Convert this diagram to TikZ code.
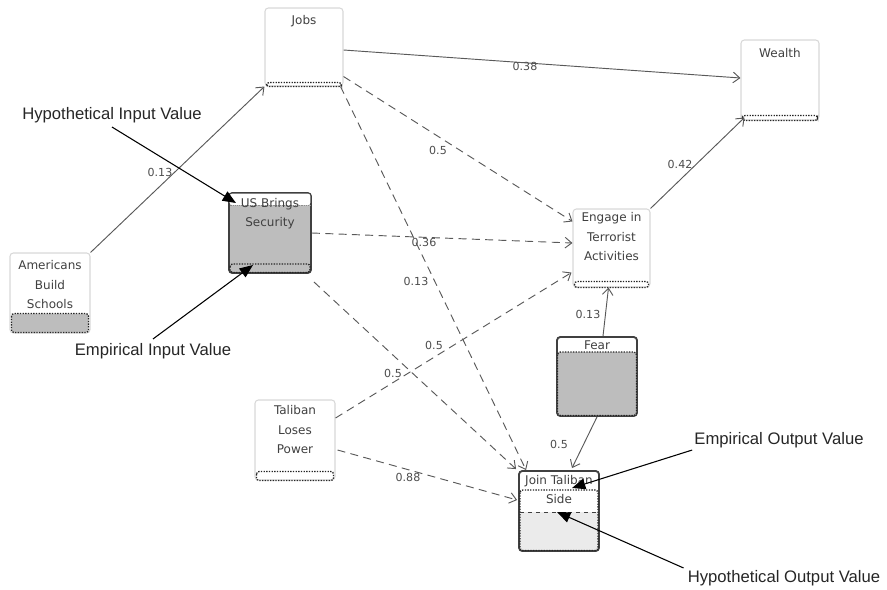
\documentclass[tikz,border=0pt]{standalone}
\usepackage{fontspec}
\setmainfont{DejaVu Sans}
\newfontfamily\annfont{Liberation Sans}
\usetikzlibrary{calc,arrows.meta}
\definecolor{emp}{HTML}{BDBDBD}
\definecolor{hyp}{HTML}{EBEBEB}
\definecolor{boxline}{HTML}{D8D8D8}
\tikzset{
  box/.style={draw=boxline, rounded corners=2.5pt, line width=0.8pt, inner sep=0pt, fill=white},
  hot/.style={draw=black!75, line width=1.4pt},
  ntext/.style={font=\fontsize{9}{14.5}\selectfont, text=black!75, align=center, anchor=north, inner sep=0pt},
  lbl/.style={font=\fontsize{8.3}{9}\selectfont, text=black!70, inner sep=1pt},
  edge/.style={draw=black!65, line width=0.7pt, -{Straight Barb[length=5pt,width=8pt]}},
  dedge/.style={edge, dash pattern=on 6pt off 4pt},
  ann/.style={draw=black, line width=0.8pt, -{Triangle[length=10pt,width=8pt]}},
  anntext/.style={font=\annfont\fontsize{12.5}{14}\selectfont, text=black!85, inner sep=0pt},
  band/.style={draw=black!85, densely dotted, line width=1pt, rounded corners=2pt}
}
\begin{document}
\begin{tikzpicture}[x=0.75pt,y=-0.75pt]
\useasboundingbox (0,0) rectangle (887,589);

% boxes
\node[box, minimum width=58.5pt, minimum height=58.5pt] (jobs) at (304,47) {};
\node[box, minimum width=58.5pt, minimum height=60pt] (wealth) at (780,80) {};
\node[box, hot, fill=emp, minimum width=61.5pt, minimum height=60pt] (us) at (270,233) {};
\node[box, minimum width=60pt, minimum height=60pt] (ams) at (50,293) {};
\node[box, minimum width=57.75pt, minimum height=58.5pt] (eng) at (611.5,248) {};
\node[box, hot, minimum width=60pt, minimum height=59.25pt] (fear) at (597,376.5) {};
\node[box, minimum width=60pt, minimum height=60pt] (tal) at (295,440) {};
\node[box, hot, minimum width=60pt, minimum height=60pt] (join) at (559,511) {};

% internal bands
\draw[band] ($(jobs.south west)+(2,-4)$) rectangle ($(jobs.south east)+(-2,0)$);
\draw[band] ($(wealth.south west)+(2,-5)$) rectangle ($(wealth.south east)+(-2,0)$);
\draw[band] ($(eng.south west)+(2,-6)$) rectangle ($(eng.south east)+(-2,0)$);
\draw[band] ($(tal.south west)+(2,-9)$) rectangle ($(tal.south east)+(-2,0)$);
\draw[band, fill=emp] ($(ams.south west)+(2,-20)$) rectangle ($(ams.south east)+(-2,-1)$);
% US brings security
\fill[white, rounded corners=2pt] ($(us.north west)+(1.5,1.5)$) rectangle ($(us.north east)+(-1.5,13)$);
\draw[black!45, densely dotted] ($(us.north west)+(1.5,13)$) -- ($(us.north east)+(-1.5,13)$);
\draw[band] ($(us.south west)+(2,-10)$) rectangle ($(us.south east)+(-2,-1.5)$);
% Fear
\draw[band, fill=emp] ($(fear.north west)+(1.5,16)$) rectangle ($(fear.south east)+(-1.5,-1.5)$);
% Join Taliban
\fill[hyp] ($(join.north west)+(2,42)$) rectangle ($(join.south east)+(-2,-2)$);
\draw[band] ($(join.north west)+(2,20)$) rectangle ($(join.south east)+(-2,-1.5)$);
\draw[black!75, dashed] ($(join.north west)+(2,42)$) -- ($(join.north east)+(-2,42)$);

% node texts
\node[ntext] (jobs-t) at ($(jobs.north)+(0,8)$) {Jobs};
\node[ntext] (wealth-t) at ($(wealth.north)+(0,9)$) {Wealth};
\node[ntext] (us-t) at ($(us.north)+(0,6)$) {US Brings\\Security};
\node[ntext] (ams-t) at ($(ams.north)+(0,8)$) {Americans\\Build\\Schools};
\node[ntext] (eng-t) at ($(eng.north)+(0,4)$) {Engage in\\Terrorist\\Activities};
\node[ntext] (fear-t) at ($(fear.north)+(0,4)$) {Fear};
\node[ntext] (tal-t) at ($(tal.north)+(0,6)$) {Taliban\\Loses\\Power};
\node[ntext] (join-t) at ($(join.north)+(0,5)$) {Join Taliban\\Side};

% connectors
\draw[edge] (ams.north east) -- (jobs.south west);
\draw[edge] ($(jobs.east)+(0,3)$) -- ($(wealth.west)+(0,-2)$);
\draw[dedge] ($(jobs.south east)+(0,-10)$) -- ($(eng.north west)+(0,13)$);
\draw[dedge] ($(jobs.south east)+(-3,0)$) -- ($(join.north west)+(8,0)$);
\draw[dedge] (us.east) -- ($(eng.west)+(0,-5)$);
\draw[dedge] ($(us.south east)+(2,8)$) -- ($(join.north west)+(-2,-1)$);
\draw[dedge] ($(tal.east)+(0,-22)$) -- ($(eng.south west)+(-1,-15)$);
\draw[dedge] ($(tal.east)+(2,10)$) -- ($(join.west)+(-1,-11)$);
\draw[edge] ($(fear.north)+(6,0)$) -- ($(eng.south)+(-3,0)$);
\draw[edge] (fear.south) -- ($(join.north)+(13,-2)$);
\draw[edge] (eng.north east) -- ($(wealth.south west)+(4,-3)$);

% edge labels
\node[lbl] (l1) at (160,172) {0.13};
\node[lbl] (l2) at (525,66) {0.38};
\node[lbl] (l3) at (438,150) {0.5};
\node[lbl] (l4) at (416,281) {0.13};
\node[lbl] (l5) at (424,242) {0.36};
\node[lbl] (l6) at (434,345) {0.5};
\node[lbl] (l7) at (393,373) {0.5};
\node[lbl] (l8) at (408,477) {0.88};
\node[lbl] (l9) at (588,314) {0.13};
\node[lbl] (l10) at (559,444) {0.5};
\node[lbl] (l11) at (680,164) {0.42};

% annotations
\node[anntext] (hin) at (112,115) {Hypothetical Input Value};
\node[anntext] (ein) at (153,351) {Empirical Input Value};
\node[anntext] (eout) at (779,440) {Empirical Output Value};
\node[anntext] (hout) at (784,578) {Hypothetical Output Value};
\coordinate (hin-tip) at (236,203);
\coordinate (ein-tip) at (253,265);
\coordinate (eout-tip) at (572,488);
\coordinate (hout-tip) at (557,512);
\draw[ann] ($(hin.south)+(0,4)$) -- (hin-tip);
\draw[ann] ($(ein.north)+(0,-4)$) -- (ein-tip);
\draw[ann] ($(eout.south west)+(-2,2)$) -- (eout-tip);
\draw[ann] ($(hout.north west)+(-4,-2)$) -- (hout-tip);
\end{tikzpicture}
\end{document}
